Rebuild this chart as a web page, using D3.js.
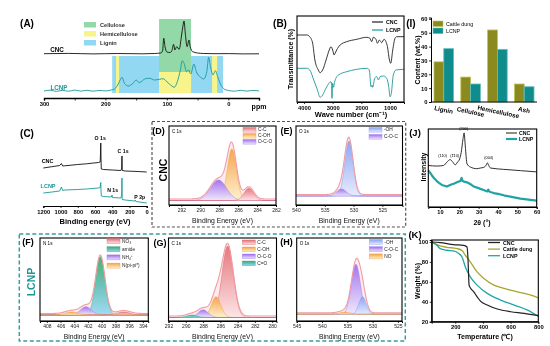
<!DOCTYPE html>
<html><head><meta charset="utf-8">
<script src="https://cdn.jsdelivr.net/npm/d3@7"></script>
<style>body{margin:0;background:#fff;} #wrap{will-change:transform;transform:translateZ(0);width:550px;height:346px;}</style>
</head><body><div id="wrap"></div><script>
// ================= DATA =================
// (A) 13C NMR (ppm, intensity a.u.)
const nmrCNC = [[300,44.3],[260,44.6],[220,44.1],[180,44.5],[140,44.2],[120,44.5],[110,45],[107,47],[105,59.7],[103,51.3],[100,46],[95,45.5],[92,47],[89,53.7],[87,48],[84,51.3],[80,48.7],[76,63],[74,71.3],[72,77],[70,64.7],[67,51.3],[64,58],[62,51.3],[58,46.3],[50,45],[40,44.5],[20,44.3],[0,44.4],[-25,44.1],[-50,44.2]];
const nmrLCNP = [[300,7],[290,7.8],[280,6.6],[270,7.6],[260,6.8],[250,7.9],[240,6.9],[230,7.7],[220,6.8],[210,7.6],[200,7.1],[192,7.8],[186,8.7],[180,13],[176,18],[173,20.7],[169,14.7],[163,12],[155,14.7],[150,18],[145,15.3],[135,19.3],[128,19.7],[120,18],[112,18.7],[106,19.3],[100,16.3],[92,12],[88,10.7],[83,16.3],[78,28],[75,37.3],[72,34.7],[68,26.3],[65,28],[61,24],[56,34],[52,26.3],[45,20.7],[40,19],[35,26.3],[32,40.7],[29,31.3],[25,23],[21,27.3],[17,20.7],[12,13],[6,8.7],[0,7.6],[-10,6.8],[-20,7.7],[-30,6.9],[-40,7.6],[-50,7]];
const nmrRegions = [
  {name:'Lignin', from:189, to:8.5, lo:5, hi:42},
  {name:'Hemicellulose', from:182.7, to:177.8, lo:5, hi:42},
  {name:'Hemicellulose', from:26.4, to:18.2, lo:5, hi:42},
  {name:'Hemicellulose', from:112.7, to:60.6, lo:5, hi:26},
  {name:'Cellulose', from:112.7, to:60.6, lo:26, hi:79}
];
const nmrLegend = ['Cellulose','Hemicellulose','Lignin'];
const nmrTicks = [300,250,200,150,100,50,0,-50];

// (B) FTIR (wavenumber, transmittance a.u.)
const ftirCNC = [[4244,67],[3900,67],[3800,65.3],[3700,59],[3620,42],[3500,32],[3440,29.3],[3350,32],[3230,42],[3120,52],[3060,55.3],[3000,52],[2950,47],[2910,49],[2860,52],[2740,57],[2510,60.3],[2160,62.7],[1810,64.7],[1700,63.7],[1640,60.3],[1580,64.7],[1490,62.7],[1440,58.7],[1370,62],[1290,59.3],[1210,62.7],[1140,60.3],[1090,55.3],[1020,42],[975,38.7],[905,52],[825,63.7],[770,65.3],[512,65.3]];
const ftirLCNP = [[4244,33.7],[3900,33.7],[3800,32],[3660,22],[3530,12],[3440,4.7],[3350,7],[3230,14],[3120,19],[3060,20.3],[3040,19],[3023,3.7],[3005,18.7],[2965,14.7],[2940,19.3],[2800,27],[2510,30.3],[2160,32.7],[1810,33.7],[1720,32],[1665,15.3],[1630,17],[1605,14.7],[1535,23.7],[1465,25.3],[1405,22],[1350,25.3],[1230,26],[1115,23.7],[1045,15.3],[1000,5.3],[955,8.7],[885,27],[790,32],[512,32.7]];
const ftirTicks = [4000,3000,2000,1000];

// (I) composition
const compCategories = ['Lignin','Cellulose','Hemicellulose','Ash'];
const compSeries = ['Cattle dung','LCNP'];
const compCattle = [29,18,52,13];
const compLCNP = [38.5,13,38,11];
const compTicks = [0,10,20,30,40,50,60];

// (C) XPS survey (binding energy, intensity a.u.)
const surveyCNC = [[1200,38],[1100,39.3],[1010,40.5],[990,42.5],[975,40],[950,40.2],[800,41.5],[700,42.2],[560,43.5],[540,44],[537,50],[533,63],[530,46],[527,37],[500,36.5],[400,36],[300,35.5],[291,37],[287,50],[284,35.5],[250,35],[100,34.5],[0,34]];
const surveyLCNP = [[1200,13],[1100,14],[1010,15],[990,19],[975,15.5],[950,16],[800,16.5],[700,17],[560,18],[540,18.5],[537,21],[533,23.5],[530,15],[527,10],[500,9.5],[410,9],[402,11],[398,8.5],[300,8],[291,11],[287,28],[284,6.5],[250,6],[140,5],[133,6],[126,4.5],[0,3]];
const surveyTicks = [1200,1000,800,600,400,200,0];
const surveyLabels = [{t:'O 1s',be:540,v:68},{t:'C 1s',be:274,v:55},{t:'N 1s',be:395,v:16},{t:'P 2p',be:80,v:9}];

// (D)-(H) high resolution XPS fitted components (center eV, height a.u., FWHM eV)
const xpsD = [{name:'C-C',center:284.87,height:12.2,fwhm:1.2},{name:'C-OH',center:286.66,height:51.5,fwhm:1.15},{name:'O-C-O',center:288.07,height:20.5,fwhm:2.0}];
const xpsE = [{name:'-OH',center:530.8,height:55,fwhm:1.7},{name:'C-O-C',center:532.1,height:7,fwhm:2.0}];
const xpsF = [{name:'NO₃',center:396.8,height:3,fwhm:2.2},{name:'amide',center:400.2,height:58.3,fwhm:1.6},{name:'NH₄⁺',center:402.3,height:8.3,fwhm:1.9},{name:'N(pi-pi*)',center:404.4,height:3,fwhm:2.2}];
const xpsG = [{name:'C-C',center:285.15,height:71.5,fwhm:1.55},{name:'C-OH',center:286.5,height:20.7,fwhm:1.3},{name:'O-C-O',center:288.0,height:7.7,fwhm:1.4},{name:'C=O',center:289.3,height:2.5,fwhm:1.4}];
const xpsH = [{name:'-OH',center:532.0,height:17.6,fwhm:1.7},{name:'C-O-C',center:533.3,height:50,fwhm:2.1},{name:'NO',center:535.5,height:2.2,fwhm:2.5}];

// (J) XRD (2theta, intensity a.u.)
const xrdCNC = [[4,42.6],[8.4,42],[11.9,42.6],[13.6,46],[15.3,48.6],[16.7,46],[17.9,43.3],[19.1,46],[20.2,49.3],[21.0,56],[21.9,69.3],[22.5,76],[23.1,62.6],[24,44.3],[25.7,41],[29.1,39.3],[30.9,40],[32.6,40.6],[33.9,43],[34.5,45.3],[35.2,42.6],[36.1,40],[43,38.6],[51.6,37.3],[60,36]];
const xrdLCNP = [[4,37.6],[5,35],[5.8,32.6],[7,29.5],[8.4,26.6],[9.5,24.8],[11,22.6],[12.3,21.8],[13.6,21],[15,22.3],[16.2,23.3],[17.5,24.1],[18.8,25.3],[19.8,26.2],[20.5,26.6],[21.2,29.8],[21.7,26.6],[22.5,26],[24,25.3],[25.8,23.4],[27.5,21],[29.2,19.9],[30.9,18.6],[32.6,17.4],[34.4,16],[35,17.8],[35.6,15.6],[37.8,14.3],[40,13.5],[43,12],[47,10.4],[51.6,8.6],[55.8,7.6],[60,6.6]];
const xrdTicks = [10,20,30,40,50,60];
const xrdPeakLabels = [{t:'(110)',tt:11.4,v:52},{t:'(1̅10)',tt:17.6,v:52},{t:'(200)',tt:22.3,v:80},{t:'(004)',tt:35.2,v:50}];

// (K) TGA (temperature C, weight %)
const tgaCNC = [[30,100],[91,99.4],[188,97.4],[261,96.7],[285,95],[292,83.4],[300,56.7],[309,54],[334,50],[358,45],[382,40.7],[431,36.7],[504,32.7],[601,30],[699,28.4],[800,26]];
const tgaCattle = [[30,100],[54,98.4],[91,96],[140,94.7],[213,93.4],[249,91.4],[273,86.7],[309,80],[358,70],[407,63.4],[480,56.7],[553,53.4],[650,50],[747,46.7],[800,44]];
const tgaLCNP = [[30,100],[67,96.7],[91,93.4],[140,91.7],[188,91],[225,88.4],[249,85],[273,75],[309,65],[358,56.7],[431,48.4],[528,41.7],[626,36.7],[723,31.7],[800,25.5]];
const tgaXTicks = [200,400,600,800];
const tgaYTicks = [20,40,60,80,100];

// ================= DRAWING =================
const FONT = '"Liberation Sans", Arial, Helvetica, sans-serif';
const TEAL = '#1b9797';
const svg = d3.select('#wrap').append('svg').attr('width',550).attr('height',346).style('display','block');
svg.append('rect').attr('width',550).attr('height',346).attr('fill','#fff');
const defs = svg.append('defs');

function txt(t,x,y,o={}){
  const e = svg.append('text').attr('x',x).attr('y',y).attr('font-family',FONT)
    .attr('font-size',o.size||6).attr('font-weight',o.weight||'bold').attr('fill',o.fill||'#000')
    .attr('text-anchor',o.anchor||'middle').attr('dominant-baseline','central').text(t);
  if(o.rot) e.attr('transform',`rotate(${o.rot},${x},${y})`);
  return e;
}
function axis(kind, scale, pos, ticks, o={}){
  const ax = (kind==='bottom'?d3.axisBottom(scale):d3.axisLeft(scale)).tickValues(ticks)
    .tickSizeOuter(0).tickSize(o.ts??2.5).tickPadding(o.pad??1.5).tickFormat(o.fmt||d3.format('d'));
  const g = svg.append('g').attr('transform', kind==='bottom'?`translate(0,${pos})`:`translate(${pos},0)`).call(ax);
  g.select('.domain').attr('stroke', o.noDomain?'none':'#000').attr('stroke-width', o.sw||1);
  g.selectAll('.tick line').attr('stroke','#000').attr('stroke-width',o.tw||0.8);
  g.selectAll('.tick text').attr('font-family',FONT).attr('font-size',o.fs||5.8)
    .attr('font-weight',o.fw||'bold').attr('fill',o.tc||'#000');
  return g;
}
function line(data,x,y,color,w,curve){
  return svg.append('path').datum(data)
    .attr('d', d3.line().x(d=>x(d[0])).y(d=>y(d[1])).curve(curve||d3.curveMonotoneX))
    .attr('fill','none').attr('stroke',color).attr('stroke-width',w).attr('stroke-linejoin','round');
}
function box(x,y,c){
  const [a,b]=x.range(), [p,q]=y.range();
  svg.append('rect').attr('x',Math.min(a,b)).attr('y',Math.min(p,q)).attr('width',Math.abs(b-a)).attr('height',Math.abs(q-p))
    .attr('fill','none').attr('stroke',c||'#000').attr('stroke-width',1.1);
}

// ---------- (A) ----------
{
  const x = d3.scaleLinear().domain([300,-50]).range([44,259]);
  const y = d3.scaleLinear().domain([0,80]).range([98,18]);
  const regionColor = {Cellulose:'#93d9a8', Hemicellulose:'#f8f48c', Lignin:'#93d8f3'};
  nmrRegions.forEach(r=>svg.append('rect').attr('x',x(r.from)).attr('width',x(r.to)-x(r.from))
    .attr('y',y(r.hi)).attr('height',y(r.lo)-y(r.hi)).attr('fill',regionColor[r.name]));
  line(nmrCNC,x,y,'#111',0.9);
  line(nmrLCNP,x,y,TEAL,0.9);
  axis('bottom',x,98,nmrTicks,{fmt:d=>d%100===0?d:'',sw:1.4,ts:2.5,fs:5.8});
  nmrLegend.forEach((n,i)=>{
    svg.append('rect').attr('x',84).attr('y',22+i*9).attr('width',12).attr('height',5.5).attr('fill',regionColor[n]);
    txt(n,100,24.8+i*9,{anchor:'start',size:5.6,fill:'#333'});
  });
  txt('ppm',259,106,{size:7});
  txt('CNC',57,49,{size:6.3});
  txt('LCNP',59,87,{size:6.3,fill:TEAL});
  txt('(A)',27,23,{size:10});
}

// ---------- (B) ----------
{
  const x = d3.scaleLinear().domain([4244,512]).range([297,404]);
  const y = d3.scaleLinear().domain([0,86]).range([102,16]);
  line(ftirCNC,x,y,'#222',0.9);
  line(ftirLCNP,x,y,TEAL,0.9);
  axis('bottom',x,102,ftirTicks,{ts:2,fs:5.8});
  box(x,y);
  [['CNC','#222'],['LCNP',TEAL]].forEach(([n,c],i)=>{
    svg.append('line').attr('x1',372).attr('x2',383).attr('y1',22+i*8).attr('y2',22+i*8).attr('stroke',c).attr('stroke-width',1.2);
    txt(n,386,22+i*8,{anchor:'start',size:5.3});
  });
  txt('Wave number (cm⁻¹)',351,114,{size:7.5});
  txt('Transmittance (%)',290,59,{size:7,rot:-90});
  txt('(B)',280,23,{size:10});
}

// ---------- (I) ----------
{
  const x = d3.scaleBand().domain(compCategories).range([434,534]).paddingInner(0.27);
  const xs = d3.scaleBand().domain(compSeries).range([0,x.bandwidth()]);
  const y = d3.scaleLinear().domain([0,61]).range([102,17.5]);
  const fills = {'Cattle dung':['#8b8a1f','#c3c15c'], 'LCNP':['#108c8c','#63bdbd']};
  const vals = {'Cattle dung':compCattle, 'LCNP':compLCNP};
  compSeries.forEach(s=>compCategories.forEach((c,i)=>{
    svg.append('rect').attr('x',x(c)+xs(s)).attr('width',xs.bandwidth()).attr('y',y(vals[s][i]))
      .attr('height',y(0)-y(vals[s][i])).attr('fill',fills[s][0]).attr('stroke',fills[s][1]).attr('stroke-width',0.8);
  }));
  axis('left',y,431,compTicks,{ts:2,fs:5.8});
  svg.append('line').attr('x1',431).attr('x2',x.range()[1]+3).attr('y1',y(0)).attr('y2',y(0)).attr('stroke','#000').attr('stroke-width',1);
  compSeries.forEach((s,i)=>{
    svg.append('rect').attr('x',433).attr('y',21+i*7).attr('width',10).attr('height',5.5).attr('fill',fills[s][0]).attr('stroke',fills[s][1]).attr('stroke-width',0.6);
    txt(s,446,23.8+i*7,{anchor:'start',size:5.3,weight:'normal'});
  });
  compCategories.forEach((c,i)=>txt(c,x(c)+x.bandwidth()/2+(i===2?1:0),109.5+(i===1||i===2?2:0),{size:6.3,rot:12}));
  txt('Content (wt.%)',417,60,{size:7,rot:-90});
  txt('(I)',411,23,{size:10});
}

// ---------- (C) ----------
{
  const x = d3.scaleLinear().domain([1200,0]).range([43.3,146.7]);
  const y = d3.scaleLinear().domain([0,70]).range([206,136]);
  line(surveyCNC,x,y,'#111',0.9,d3.curveLinear);
  line(surveyLCNP,x,y,TEAL,0.9,d3.curveLinear);
  axis('bottom',x,206,surveyTicks,{ts:2,fs:5.8,sw:1.2});
  surveyLabels.forEach(l=>txt(l.t,x(l.be),y(l.v),{size:5.2}));
  txt('CNC',x(1150),y(45),{size:5.5});
  txt('LCNP',x(1145),y(20),{size:5.5,fill:TEAL});
  txt('Binding energy (eV)',95,221,{size:7.5});
  txt('(C)',27,133,{size:10});
}

// ---------- XPS high-resolution panels ----------
const xpsColors = {red:['#e36f77','#fde4e5','#dc6870'], orange:['#f6a043','#fdf2cc','#eea048'],
  purple:['#9d6cee','#efe7fd','#a07ee8'], blue:['#88a0f3','#e5ebfd','#88a0ee'], green:['#45aa60','#9ad9f5','#4da98a']};
Object.entries(xpsColors).forEach(([k,c])=>{
  const g = defs.append('linearGradient').attr('id','gr-'+k).attr('x1',0).attr('y1',0).attr('x2',0).attr('y2',1);
  g.append('stop').attr('offset','0%').attr('stop-color',c[0]);
  if(k==='green') g.append('stop').attr('offset','50%').attr('stop-color','#5fc0b6');
  g.append('stop').attr('offset','100%').attr('stop-color',c[1]);
});
const compColor = {'C-C':'red','C-OH':'orange','O-C-O':'purple','-OH':'blue','C-O-C':'purple',
  'NO₃':'red','amide':'green','NH₄⁺':'purple','N(pi-pi*)':'orange','C=O':'green','NO':'orange'};

function xps(cfg){
  const x = d3.scaleLinear().domain(cfg.domain).range([cfg.x0,cfg.x1]);
  const y = d3.scaleLinear().domain(cfg.ydom).range([cfg.y1,cfg.y0]);
  const n = 240, es = d3.range(n+1).map(i=>cfg.domain[0]+(cfg.domain[1]-cfg.domain[0])*i/n);
  const comps = cfg.peaks.map(p=>{const s=p.fwhm/2.3548;
    return {p, vals:es.map(e=>[e,p.height*Math.exp(-((e-p.center)**2)/(2*s*s))])};});
  const env = es.map((e,i)=>[e,d3.sum(comps,c=>c.vals[i][1])+1.5]);
  svg.append('path').datum(env).attr('d',d3.area().x(d=>x(d[0])).y0(y(0)).y1(d=>y(d[1]))).attr('fill','#fdeced');
  const area = d3.area().x(d=>x(d[0])).y0(y(0)).y1(d=>y(d[1]));
  comps.slice().sort((a,b)=>b.p.height-a.p.height).forEach(c=>{
    const col = compColor[c.p.name];
    svg.append('path').datum(c.vals).attr('d',area).attr('fill',`url(#gr-${col})`).attr('fill-opacity',0.92)
      .attr('stroke',xpsColors[col][2]).attr('stroke-width',0.5);
  });
  svg.append('path').datum(env).attr('d',d3.line().x(d=>x(d[0])).y(d=>y(d[1])))
    .attr('fill','none').attr('stroke','#f09ca3').attr('stroke-width',1.1);
  axis('bottom',x,cfg.y1,cfg.ticks,{ts:2,fs:5,fw:'normal',tc:'#222',pad:1.5});
  box(x,y);
  cfg.peaks.forEach((p,i)=>{
    const col = compColor[p.name];
    svg.append('rect').attr('x',cfg.lx).attr('y',cfg.ly+i*cfg.ld).attr('width',13).attr('height',cfg.lh)
      .attr('fill',`url(#gr-${col})`).attr('stroke',xpsColors[col][2]).attr('stroke-width',0.4);
    txt(p.name,cfg.lx+15,cfg.ly+i*cfg.ld+cfg.lh/2,{anchor:'start',size:4.8,weight:'normal',fill:'#222'});
  });
  txt(cfg.core,cfg.x0+3,cfg.y0+5,{anchor:'start',size:4.6,weight:'normal'});
  txt('Binding Energy (eV)',(cfg.x0+cfg.x1)/2,cfg.y1+15,{size:6.8,weight:'normal',fill:'#111'});
  txt(cfg.label,cfg.lbx,cfg.lby,{size:9});
}

xps({domain:[293.3,282],x0:169,x1:276,y0:126,y1:205,ydom:[-4.5,74.5],ticks:[292,290,288,286,284,282],
  peaks:xpsD,lx:243,ly:127.5,ld:6,lh:4.6,core:'C 1s',label:'(D)',lbx:158.5,lby:131});
xps({domain:[540,521.5],x0:296,x1:402.5,y0:126,y1:205,ydom:[-9,70],ticks:[540,535,530,525],
  peaks:xpsE,lx:369,ly:127.5,ld:7,lh:4.6,core:'O 1s',label:'(E)',lbx:286.5,lby:131});
xps({domain:[409,393.2],x0:40,x1:148.3,y0:238,y1:321,ydom:[-6,77],ticks:[408,406,404,402,400,398,396,394],
  peaks:xpsF,lx:107,ly:238.5,ld:8.2,lh:5,core:'N 1s',label:'(F)',lbx:28,lby:242});
xps({domain:[292,279.5],x0:168.5,x1:276.5,y0:238,y1:321,ydom:[-3.5,79.5],ticks:[292,290,288,286,284,282,280],
  peaks:xpsG,lx:242.3,ly:240,ld:7,lh:4.7,core:'C 1s',label:'(G)',lbx:160,lby:243});
xps({domain:[545,524.2],x0:296.7,x1:402,y0:238,y1:321,ydom:[-6.7,76.3],ticks:[545,540,535,530,525],
  peaks:xpsH,lx:369.3,ly:239.5,ld:7.2,lh:5,core:'O 1s',label:'(H)',lbx:286.5,lby:242});

// dashed frames
svg.append('rect').attr('x',152).attr('y',121.5).attr('width',253.7).attr('height',105.5)
  .attr('fill','none').attr('stroke','#555').attr('stroke-width',1.2).attr('stroke-dasharray','3,2');
svg.append('rect').attr('x',19.3).attr('y',234).attr('width',386).attr('height',107)
  .attr('fill','none').attr('stroke','#3a9c9c').attr('stroke-width',1.5).attr('stroke-dasharray','4,2.5');
txt('CNC',163,170,{size:10.5,rot:-90});
txt('LCNP',31,282,{size:10.5,rot:-90,fill:TEAL});

// ---------- (J) ----------
{
  const x = d3.scaleLinear().domain([4,60]).range([428.3,536.7]);
  const y = d3.scaleLinear().domain([0,80]).range([207,129]);
  line(xrdLCNP,x,y,'#20a3a3',2.2,d3.curveLinear);
  line(xrdCNC,x,y,'#1a1a1a',0.9);
  axis('bottom',x,207,xrdTicks,{ts:2,fs:5.6});
  box(x,y);
  xrdPeakLabels.forEach(l=>txt(l.t,x(l.tt),y(l.v),{size:3.8,weight:'normal'}));
  [['CNC','#1a1a1a',1],['LCNP','#20a3a3',2.2]].forEach(([n,c,w],i)=>{
    svg.append('line').attr('x1',506).attr('x2',517).attr('y1',133+i*6).attr('y2',133+i*6).attr('stroke',c).attr('stroke-width',w);
    txt(n,519,133+i*6,{anchor:'start',size:5.2});
  });
  txt('2θ (°)',482,222,{size:7});
  txt('Intensity',423,167,{size:7,rot:-90});
  txt('(J)',415,132,{size:9.5});
}

// ---------- (K) ----------
{
  const x = d3.scaleLinear().domain([30,800]).range([431.7,538.3]);
  const y = d3.scaleLinear().domain([20,102]).range([321.7,240]);
  line(tgaCattle,x,y,'#a9a52c',1.3);
  line(tgaLCNP,x,y,'#1fa6a6',1.3);
  line(tgaCNC,x,y,'#222',1.2);
  axis('bottom',x,321.7,tgaXTicks,{ts:2,fs:5.8});
  axis('left',y,431.7,tgaYTicks,{ts:2,fs:5.8});
  box(x,y);
  [['CNC','#222'],['Cattle dung','#a9a52c'],['LCNP','#1fa6a6']].forEach(([n,c],i)=>{
    svg.append('line').attr('x1',488).attr('x2',500).attr('y1',242.5+i*6.6).attr('y2',242.5+i*6.6).attr('stroke',c).attr('stroke-width',1.3);
    txt(n,503,242.5+i*6.6,{anchor:'start',size:5.3});
  });
  txt('Temperature (℃)',485,336,{size:7});
  txt('Weight (%)',417,281,{size:7,rot:-90});
  txt('(K)',415,234,{size:9.5});
}
</script></body></html>
